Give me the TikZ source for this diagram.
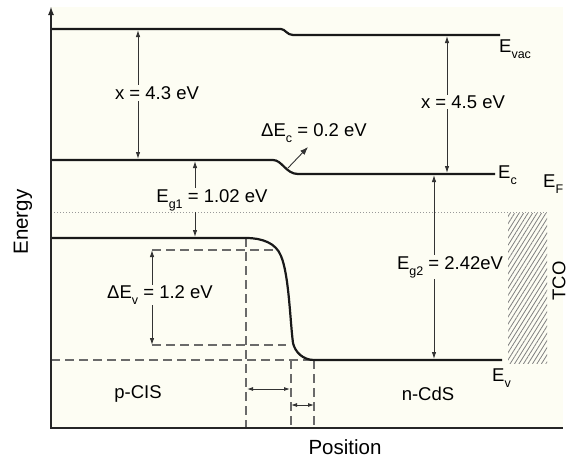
\documentclass[tikz,border=0pt]{standalone}
\usepackage{fontspec}
\setmainfont{Liberation Sans}
\usetikzlibrary{arrows.meta,patterns.meta}
\definecolor{cream}{HTML}{FDFDF3}
\definecolor{arrowgray}{HTML}{333333}
\definecolor{dashgray}{HTML}{6A6A6A}
\newcommand\lsub[1]{\raisebox{-0.32em}{\fontsize{12.5}{12.5}\selectfont #1}}
\tikzset{
  level/.style={line width=2.2pt, black!90, line join=round},
  axisline/.style={line width=1.8pt, black!85},
  dashline/.style={line width=1.3pt, dashgray, dash pattern=on 9pt off 5pt},
  dimarrow/.style={line width=0.9pt, arrowgray, {Latex[length=7pt,width=4.5pt]}-{Latex[length=7pt,width=4.5pt]}},
  smallarrow/.style={line width=0.9pt, arrowgray, {Latex[length=6pt,width=4pt]}-{Latex[length=6pt,width=4pt]}},
  lbl/.style={font=\fontsize{18.5}{20}\selectfont, inner sep=1pt},
  flbl/.style={lbl, fill=cream},
  axlbl/.style={font=\fontsize{20.5}{22}\selectfont, inner sep=0pt}
}
\begin{document}
\begin{tikzpicture}[x=1pt,y=-1pt]
\useasboundingbox (0,0) rectangle (571,463);
\fill[white] (0,0) rectangle (571,463);
\fill[cream] (51,7) rectangle (563,428);

% Fermi level (dotted)
\coordinate (efL) at (51,212);
\coordinate (efR) at (548,212);
\draw[line width=1pt, black!40, dotted] (efL) -- (efR);

% TCO hatched region
\node[draw=none, minimum width=39pt, minimum height=150pt, inner sep=0pt,
  pattern={Lines[angle=58,distance=3.8pt,line width=0.8pt]}, pattern color=black!50]
  (tco) at (527.5,288) {};

% dashed construction lines
\draw[dashline] (246,238) -- (246,428);
\draw[dashline] (152,250) -- (273,250);
\draw[dashline] (152,345) -- (286,345);
\draw[dashline] (51,360) -- (313,360);
\draw[dashline] (291,360) -- (291,428);
\draw[dashline] (314,360) -- (314,428);

% band levels
\draw[level] (51,29) -- (281,29) .. controls (285,29) and (287,35) .. (293,35) -- (500,35);
\draw[level] (51,160) -- (273,160) .. controls (282,160) and (286,174) .. (298,174) -- (495,174);
\draw[level] (51,238) -- (246,238) .. controls (262,238) and (276,243) .. (281,256)
  .. controls (289,275) and (290,320) .. (293,343)
  .. controls (295,352) and (303,360) .. (314,360) -- (502,360);

% axes
\draw[axisline, {Latex[length=9pt,width=6pt]}-] (51,6) -- (51,428) -- (563,428);

% dimension arrows
\coordinate (a1t) at (138,30); \coordinate (a1b) at (138,159);
\draw[dimarrow] (a1t) -- (a1b);
\node[flbl] (chi1) at (157,93) {x = 4.3 eV};

\coordinate (a2t) at (447,36); \coordinate (a2b) at (447,173);
\draw[dimarrow] (a2t) -- (a2b);
\node[flbl] (chi2) at (463,102) {x = 4.5 eV};

\coordinate (g1t) at (195,161); \coordinate (g1b) at (195,237);
\draw[dimarrow] (g1t) -- (g1b);
\node[flbl] (eg1) at (212,200) {E\lsub{g1} = 1.02 eV};

\coordinate (g2t) at (434,175); \coordinate (g2b) at (434,359);
\draw[dimarrow] (g2t) -- (g2b);
\node[flbl] (eg2) at (450,267) {E\lsub{g2} = 2.42eV};

\coordinate (dvt) at (152,250); \coordinate (dvb) at (152,345);
\draw[dimarrow] (dvt) -- (dvb);
\node[flbl] (dev) at (160,295) {ΔE\lsub{v} = 1.2 eV};

\coordinate (dcs) at (288,168); \coordinate (dce) at (308,147);
\draw[line width=0.9pt, arrowgray, -{Latex[length=8pt,width=6pt]}] (dcs) -- (dce);
\node[lbl] (dec) at (314,133) {ΔE\lsub{c} = 0.2 eV};

\coordinate (w1l) at (247,389); \coordinate (w1r) at (290,389);
\draw[smallarrow] (w1l) -- (w1r);
\coordinate (w2l) at (291,405); \coordinate (w2r) at (314,405);
\draw[smallarrow] (w2l) -- (w2r);

% level labels
\node[lbl, anchor=west] (evac) at (498,49) {E\lsub{vac}};
\node[lbl, anchor=west] (ec) at (497,175) {E\lsub{c}};
\node[lbl, anchor=west] (ef) at (542,184) {E\lsub{F}};
\node[lbl, anchor=west] (ev) at (491,378) {E\lsub{v}};
\node[lbl, rotate=90, inner sep=0pt] (tcol) at (559,281) {TCO};

% region labels
\node[lbl] (pcis) at (138,394) {p-CIS};
\node[lbl] (ncds) at (428,394) {n-CdS};

% axis labels
\node[axlbl, rotate=90] (energy) at (23,222) {Energy};
\node[axlbl] (pos) at (345,447) {Position};
\end{tikzpicture}
\end{document}
